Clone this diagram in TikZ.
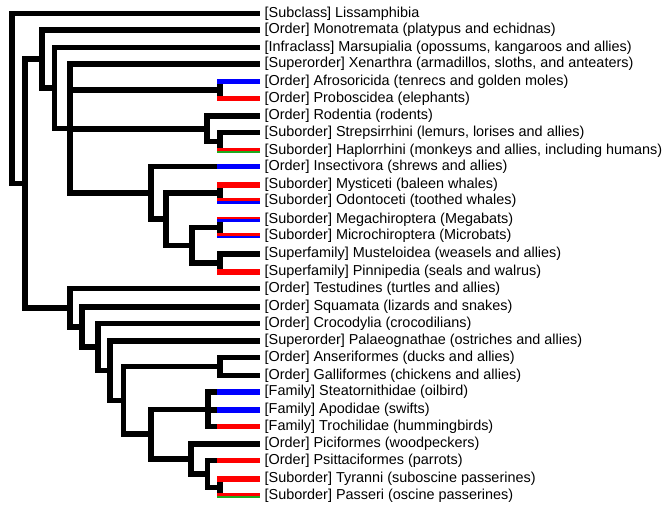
\documentclass[tikz,border=0pt]{standalone}
\usepackage{fontspec}
\setmainfont{Liberation Sans}
\definecolor{cblue}{RGB}{0,0,255}
\definecolor{cred}{RGB}{255,0,0}
\definecolor{cgreen}{RGB}{30,170,30}
\begin{document}
\begin{tikzpicture}[x=1pt,y=-1pt,
  edge/.style={line width=5.5pt,line join=miter,line cap=butt},
  bar/.style={line width=5.5pt,line cap=butt},
  lab/.style={anchor=west,inner xsep=4.5pt,inner ysep=0pt,font=\fontsize{14.42}{16}\selectfont}]
\useasboundingbox (0,0) rectangle (670,511);
% leaves
\node[lab] (l1)  at (260,13.5)  {[Subclass] Lissamphibia};
\node[lab] (l2)  at (260,30)    {[Order] Monotremata (platypus and echidnas)};
\node[lab] (l3)  at (260,47.5)  {[Infraclass] Marsupialia (opossums, kangaroos and allies)};
\node[lab] (l4)  at (260,64)    {[Superorder] Xenarthra (armadillos, sloths, and anteaters)};
\node[lab] (l5)  at (260,81.5)  {[Order] Afrosoricida (tenrecs and golden moles)};
\node[lab] (l6)  at (260,98.5)  {[Order] Proboscidea (elephants)};
\node[lab] (l7)  at (260,116)   {[Order] Rodentia (rodents)};
\node[lab] (l8)  at (260,132.5) {[Suborder] Strepsirrhini (lemurs, lorises and allies)};
\node[lab] (l9)  at (260,150.5) {[Suborder] Haplorrhini (monkeys and allies, including humans)};
\node[lab] (l10) at (260,166.5) {[Order] Insectivora (shrews and allies)};
\node[lab] (l11) at (260,185)   {[Suborder] Mysticeti (baleen whales)};
\node[lab] (l12) at (260,201)   {[Suborder] Odontoceti (toothed whales)};
\node[lab] (l13) at (260,219.5) {[Suborder] Megachiroptera (Megabats)};
\node[lab] (l14) at (260,235.5) {[Suborder] Microchiroptera (Microbats)};
\node[lab] (l15) at (260,254)   {[Superfamily] Musteloidea (weasels and allies)};
\node[lab] (l16) at (260,272)   {[Superfamily] Pinnipedia (seals and walrus)};
\node[lab] (l17) at (260,288.5) {[Order] Testudines (turtles and allies)};
\node[lab] (l18) at (260,307)   {[Order] Squamata (lizards and snakes)};
\node[lab] (l19) at (260,323.5) {[Order] Crocodylia (crocodilians)};
\node[lab] (l20) at (260,341)   {[Superorder] Palaeognathae (ostriches and allies)};
\node[lab] (l21) at (260,357.5) {[Order] Anseriformes (ducks and allies)};
\node[lab] (l22) at (260,375.5) {[Order] Galliformes (chickens and allies)};
\node[lab] (l23) at (260,392)   {[Family] Steatornithidae (oilbird)};
\node[lab] (l24) at (260,410)   {[Family] Apodidae (swifts)};
\node[lab] (l25) at (260,426.5) {[Family] Trochilidae (hummingbirds)};
\node[lab] (l26) at (260,444)   {[Order] Piciformes (woodpeckers)};
\node[lab] (l27) at (260,460.5) {[Order] Psittaciformes (parrots)};
\node[lab] (l28) at (260,479)   {[Suborder] Tyranni (suboscine passerines)};
\node[lab] (l29) at (260,495.5) {[Suborder] Passeri (oscine passerines)};
% internal nodes
\coordinate (root) at (12,98.45);
\coordinate (amn)  at (25,183.4);
\coordinate (mam)  at (42,59);
\coordinate (ther) at (54.5,87.95);
\coordinate (plac) at (70,128.4);
\coordinate (afro) at (220,90);
\coordinate (euar) at (207,128.75);
\coordinate (prim) at (220,141.5);
\coordinate (laur) at (151,192.8);
\coordinate (scro) at (166,219.1);
\coordinate (ceta) at (220,193);
\coordinate (fer)  at (192,245.25);
\coordinate (chir) at (220,227.5);
\coordinate (carn) at (220,263);
\coordinate (saur) at (70,307.8);
\coordinate (sq)   at (82,327.05);
\coordinate (arch) at (98,347.1);
\coordinate (aves) at (110,370.65);
\coordinate (neog) at (123.5,400.3);
\coordinate (gall) at (220,366.5);
\coordinate (neoa) at (151,434.1);
\coordinate (stri) at (208,409.25);
\coordinate (tell) at (191,458.95);
\coordinate (psp)  at (207.5,473.9);
\coordinate (pass) at (220,487.25);
% tree
\draw[edge]
  (root) |- (l1.west) (root) |- (amn)
  (amn) |- (mam) (amn) |- (saur)
  (mam) |- (l2.west) (mam) |- (ther)
  (ther) |- (l3.west) (ther) |- (plac)
  (plac) |- (l4.west) (plac) |- (afro) (plac) |- (euar) (plac) |- (laur)
  (afro) |- (l5.west) (afro) |- (l6.west)
  (euar) |- (l7.west) (euar) |- (prim)
  (prim) |- (l8.west) (prim) |- (l9.west)
  (laur) |- (l10.west) (laur) |- (scro)
  (scro) |- (ceta) (scro) |- (fer)
  (ceta) |- (l11.west) (ceta) |- (l12.west)
  (fer) |- (chir) (fer) |- (carn)
  (chir) |- (l13.west) (chir) |- (l14.west)
  (carn) |- (l15.west) (carn) |- (l16.west)
  (saur) |- (l17.west) (saur) |- (sq)
  (sq) |- (l18.west) (sq) |- (arch)
  (arch) |- (l19.west) (arch) |- (aves)
  (aves) |- (l20.west) (aves) |- (neog)
  (neog) |- (gall) (neog) |- (neoa)
  (gall) |- (l21.west) (gall) |- (l22.west)
  (neoa) |- (stri) (neoa) |- (tell)
  (stri) |- (l23.west) (stri) |- (l24.west) (stri) |- (l25.west)
  (tell) |- (l26.west) (tell) |- (psp)
  (psp) |- (l27.west) (psp) |- (pass)
  (pass) |- (l28.west) (pass) |- (l29.west);
% coloured leaf bars
\foreach \l/\c in {l5/cblue,l6/cred,l10/cblue,l11/cred,l16/cred,l23/cblue,l24/cblue,l25/cred,l27/cred,l28/cred}
  \draw[bar,\c] ([xshift=-43pt]\l.west) -- (\l.west);
\foreach \l/\c/\s/\w in {l9/cred/1.375/2.75,l9/cgreen/-1.375/2.75,
  l12/cred/1.375/2.75,l12/cblue/-1.375/2.75,
  l13/cred/1.83/1.84,l13/cblue/-0.92/3.67,
  l14/cred/0.92/3.67,l14/cblue/-1.83/1.84,
  l29/cred/1.375/2.75,l29/cgreen/-1.375/2.75}
  \draw[line cap=butt,line width=\w pt,\c] ([xshift=-43pt,yshift=\s pt]\l.west) -- ([yshift=\s pt]\l.west);
\end{tikzpicture}
\end{document}
